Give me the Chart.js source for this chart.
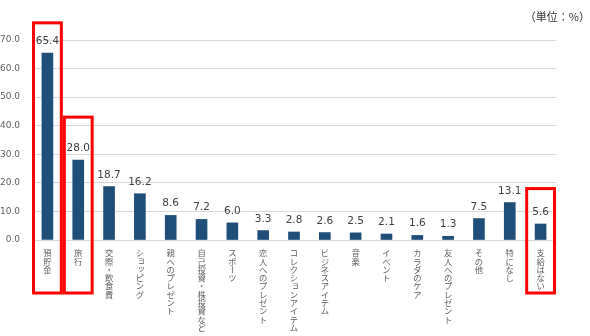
<!DOCTYPE html>
<html lang="ja">
<head>
<meta charset="utf-8">
<script src="https://cdn.jsdelivr.net/npm/chart.js@4"></script>
<style>
  html, body { margin: 0; padding: 0; background: #ffffff; }
  #wrap { position: relative; width: 590px; height: 336px; }
</style>
</head>
<body>
<div id="wrap"><canvas id="chart" width="590" height="336"></canvas></div>
<script>
// Usage categories (x axis) and share in percent
const CATEGORIES = [
  "預貯金", "旅行", "交際・飲食費", "ショッピング", "親へのプレゼント",
  "自己投資・株投資など", "スポーツ", "恋人へのプレゼント", "コレクションアイテム",
  "ビジネスアイテム", "音楽", "イベント", "カラダのケア", "友人へのプレゼント",
  "その他", "特になし", "支給はない"
];
const VALUES = [65.4, 28.0, 18.7, 16.2, 8.6, 7.2, 6.0, 3.3, 2.8, 2.6, 2.5, 2.1, 1.6, 1.3, 7.5, 13.1, 5.6];
const Y_TICKS = [0, 10, 20, 30, 40, 50, 60, 70];
const UNIT_LABEL = "（単位：%）";

// Bars framed in red, and the value (in %) where each frame starts
const HIGHLIGHT_INDEX = [0, 1, 16];
const HIGHLIGHT_TOP = [76, 43, 18];

const BAR_COLOR = "#1f4e79";
const TEXT_GRAY = "#606060";
const SMALL_KANA = "ァィゥェォッャュョヮ";

const Chart = window.Chart;

// Value above each bar
const valueLabels = {
  id: "valueLabels",
  afterDatasetsDraw(chart) {
    const ctx = chart.ctx;
    const meta = chart.getDatasetMeta(0);
    ctx.save();
    ctx.font = "10.5px 'DejaVu Sans', sans-serif";
    ctx.fillStyle = "#404040";
    ctx.textAlign = "center";
    ctx.textBaseline = "alphabetic";
    meta.data.forEach((bar, i) => {
      ctx.fillText(VALUES[i].toFixed(1), bar.x, bar.y - 9);
    });
    ctx.restore();
  }
};

// Category names written top-to-bottom under each bar
const verticalLabels = {
  id: "verticalLabels",
  afterDraw(chart) {
    const ctx = chart.ctx;
    const xs = chart.scales.x;
    const top = chart.chartArea.bottom + 9;
    const step = 8.3;
    ctx.save();
    ctx.font = "8.3px 'Noto Sans CJK JP', sans-serif";
    ctx.fillStyle = TEXT_GRAY;
    ctx.textAlign = "center";
    ctx.textBaseline = "middle";
    CATEGORIES.forEach((label, i) => {
      const x = xs.getPixelForValue(i);
      [...label].forEach((ch, k) => {
        const cy = top + k * step + step / 2;
        if (ch === "ー") {
          // long vowel mark turns upright in vertical text
          ctx.save();
          ctx.translate(x, cy);
          ctx.rotate(Math.PI / 2);
          ctx.fillText(ch, 0, 0);
          ctx.restore();
        } else if (SMALL_KANA.includes(ch)) {
          ctx.fillText(ch, x + 1.5, cy - 1.5);
        } else {
          ctx.fillText(ch, x, cy);
        }
      });
    });
    ctx.restore();
  }
};

// Red frames around the highlighted bars and the unit note
const highlightBoxes = {
  id: "highlightBoxes",
  afterDraw(chart) {
    const ctx = chart.ctx;
    const xs = chart.scales.x;
    const ys = chart.scales.y;
    const half = xs.width / CATEGORIES.length / 2 - 1.5;
    const bottom = chart.chartArea.bottom + 53;
    ctx.save();
    ctx.strokeStyle = "#ff0000";
    ctx.lineWidth = 3;
    HIGHLIGHT_INDEX.forEach((idx, k) => {
      const x = xs.getPixelForValue(idx);
      const y = ys.getPixelForValue(HIGHLIGHT_TOP[k]);
      ctx.strokeRect(x - half, y, half * 2, bottom - y);
    });
    ctx.font = "11px 'Noto Sans CJK JP', sans-serif";
    ctx.fillStyle = "#333333";
    ctx.textAlign = "right";
    ctx.textBaseline = "middle";
    ctx.fillText(UNIT_LABEL, 590, 17);
    ctx.restore();
  }
};

new Chart(document.getElementById("chart").getContext("2d"), {
  type: "bar",
  data: {
    labels: CATEGORIES,
    datasets: [{
      data: VALUES,
      backgroundColor: BAR_COLOR,
      barThickness: 11
    }]
  },
  options: {
    responsive: false,
    animation: false,
    layout: { padding: { top: 40, right: 34, bottom: 96, left: 0 } },
    plugins: { legend: { display: false }, tooltip: { enabled: false } },
    scales: {
      x: {
        grid: { display: false },
        border: { display: false },
        ticks: { display: false },
        afterFit: (s) => { s.height = 0; }
      },
      y: {
        min: Y_TICKS[0],
        max: Y_TICKS[Y_TICKS.length - 1],
        afterBuildTicks: (s) => { s.ticks = Y_TICKS.map((v) => ({ value: v })); },
        grid: { color: "#d9d9d9", drawTicks: false },
        border: { display: false },
        ticks: {
          padding: 12,
          color: TEXT_GRAY,
          font: { family: "'DejaVu Sans', sans-serif", size: 9 },
          callback: (v) => Number(v).toFixed(1)
        },
        afterFit: (s) => { s.width = 32; }
      }
    }
  },
  plugins: [valueLabels, verticalLabels, highlightBoxes]
});
</script>
</body>
</html>
